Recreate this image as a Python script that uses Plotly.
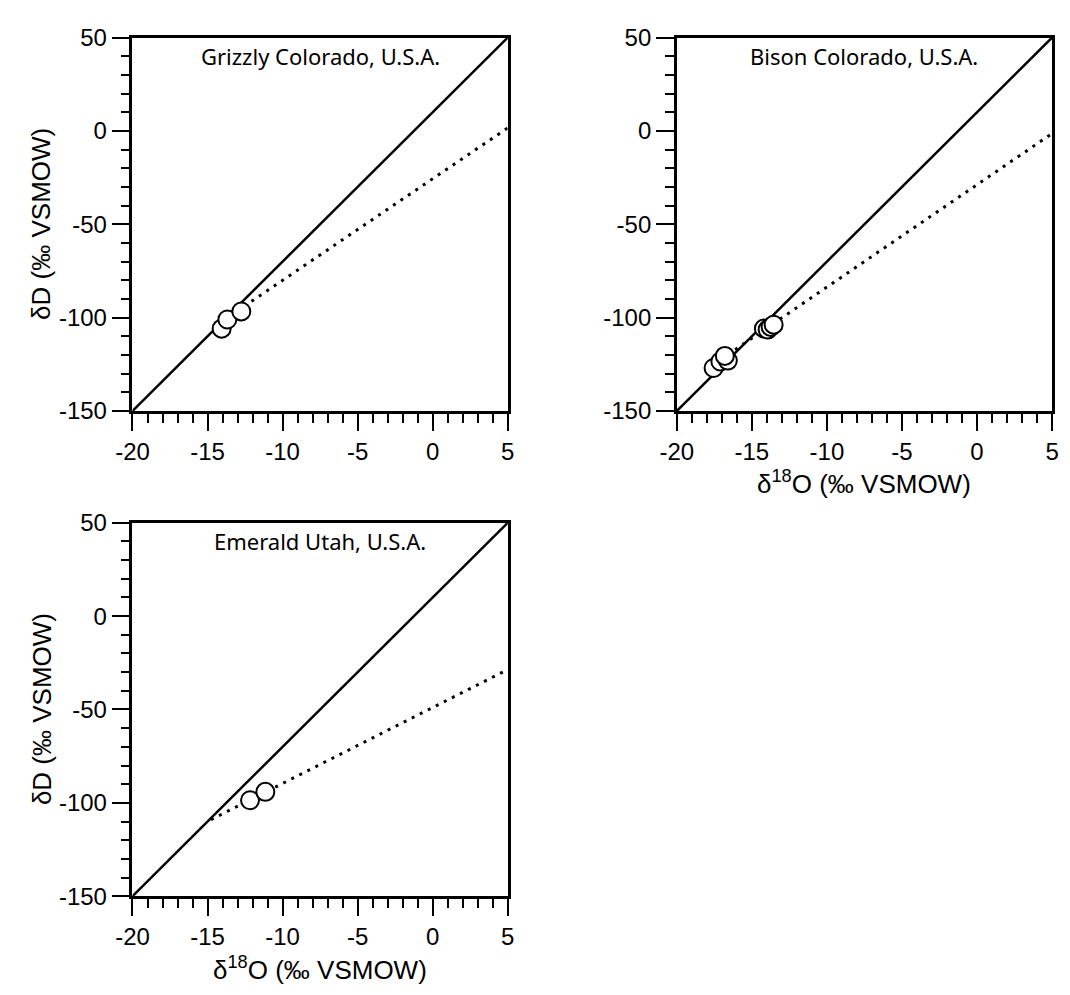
import plotly.graph_objects as go

# The page body has a default 8px margin; the figure is placed inside it.
PAGE_W, PAGE_H = 1070, 995
OFF = 8
W, H = PAGE_W - 2 * OFF, PAGE_H - 2 * OFF

# ---------------- data ----------------
grizzly_o = [-14.06, -13.68, -12.75]
grizzly_d = [-105.9, -101.0, -96.7]

bison_o = [-17.55, -17.1, -16.6, -16.8, -14.2, -13.95, -13.75, -13.55]
bison_d = [-127.0, -123.5, -123.0, -120.5, -105.8, -106.4, -105.0, -103.8]

emerald_o = [-12.17, -11.15]
emerald_d = [-98.6, -94.1]

# Global meteoric water line (solid) and local lines (dotted): end points
gmwl_o = [-20, 5]
gmwl_d = [-150, 50]
grizzly_lmwl_o = [-14.06, 5]
grizzly_lmwl_d = [-102.1, 1.6]
bison_lmwl_o = [-17.6, 5]
bison_lmwl_d = [-125.3, -1.4]
emerald_lmwl_o = [-14.77, 5]
emerald_lmwl_d = [-109.0, -28.6]

x_ticks = [-20, -15, -10, -5, 0, 5]
x_tick_labels = ["-20", "-15", "-10", "-5", "0", "5"]
y_ticks = [-150, -100, -50, 0, 50]
y_tick_labels = ["-150", "-100", "-50", "0", "50"]

site_names = ["Grizzly Colorado, U.S.A.", "Bison Colorado, U.S.A.", "Emerald Utah, U.S.A."]
y_title = "δD (‰ VSMOW)"
x_title = "δ<sup>18</sup>O (‰ VSMOW)"

# ---------------- layout geometry (page pixels) ----------------
panels = [
    dict(left=118, right=502, top=24, bottom=408),
    dict(left=675, right=1059, top=24, bottom=408),
    dict(left=118, right=502, top=523, bottom=907),
]


def px(xp):
    return (xp - OFF) / W


def py(yp):
    return 1 - (yp - OFF) / H


samples = [(grizzly_o, grizzly_d), (bison_o, bison_d), (emerald_o, emerald_d)]
lmwls = [(grizzly_lmwl_o, grizzly_lmwl_d), (bison_lmwl_o, bison_lmwl_d),
         (emerald_lmwl_o, emerald_lmwl_d)]

fig = go.Figure()
tick_font = dict(family="Liberation Sans, Arial, sans-serif", size=24, color="black")

for i, (p, (so, sd), (lo, ld)) in enumerate(zip(panels, samples, lmwls)):
    n = "" if i == 0 else str(i + 1)
    xa, ya = "x" + n, "y" + n
    fig.add_trace(go.Scatter(x=gmwl_o, y=gmwl_d, mode="lines", xaxis=xa, yaxis=ya,
                             line=dict(color="black", width=2.5), showlegend=False,
                             hoverinfo="skip"))
    fig.add_trace(go.Scatter(x=lo, y=ld, mode="lines", xaxis=xa, yaxis=ya,
                             line=dict(color="black", width=3, dash="3px,6px"),
                             showlegend=False, hoverinfo="skip"))
    fig.add_trace(go.Scatter(x=so, y=sd, mode="markers", xaxis=xa, yaxis=ya,
                             marker=dict(size=18, color="white",
                                         line=dict(color="black", width=2)),
                             showlegend=False))

    xdom = [px(p["left"]), px(p["right"])]
    ydom = [py(p["bottom"]), py(p["top"])]
    axis_common = dict(showgrid=False, zeroline=False, showline=True, linecolor="black",
                       linewidth=2.5, mirror=True, ticks="outside", tickwidth=2,
                       tickcolor="black", tickfont=tick_font, fixedrange=True)
    fig.layout["xaxis" + n] = dict(
        domain=xdom, range=[-20, 5], anchor=ya, tickvals=x_ticks, ticktext=x_tick_labels,
        ticklen=17,
        minor=dict(ticks="outside", dtick=1, ticklen=9, tickwidth=2, tickcolor="black",
                   showgrid=False),
        **axis_common)
    fig.layout["yaxis" + n] = dict(
        domain=ydom, range=[-150, 50], anchor=xa, tickvals=y_ticks, ticktext=y_tick_labels,
        ticklen=18,
        minor=dict(ticks="outside", dtick=10, ticklen=9, tickwidth=2, tickcolor="black",
                   showgrid=False),
        **axis_common)

    cx = (p["left"] + p["right"]) / 2
    fig.add_annotation(x=px(cx), y=py(p["top"] + 19), xref="paper", yref="paper",
                       text=site_names[i], showarrow=False, xanchor="center", yanchor="middle",
                       font=dict(family="Noto Sans, Open Sans, sans-serif", size=22, color="black"))

title_font = dict(family="Liberation Sans, Arial, sans-serif", size=26, color="black")
# y titles (panels 1 and 3)
for p in (panels[0], panels[2]):
    fig.add_annotation(x=px(25), y=py((p["top"] + p["bottom"]) / 2), xref="paper",
                       yref="paper", text=y_title, textangle=-90, showarrow=False,
                       xanchor="center", yanchor="middle", font=title_font)
# x titles (panels 2 and 3)
for p in (panels[1], panels[2]):
    fig.add_annotation(x=px((p["left"] + p["right"]) / 2), y=py(p["bottom"] + 74),
                       xref="paper", yref="paper", text=x_title, showarrow=False,
                       xanchor="center", yanchor="middle", font=title_font)

fig.update_layout(width=W, height=H, margin=dict(l=0, r=0, t=0, b=0),
                  paper_bgcolor="white", plot_bgcolor="white", showlegend=False)

fig.write_html("out.html", config={"displayModeBar": False})
